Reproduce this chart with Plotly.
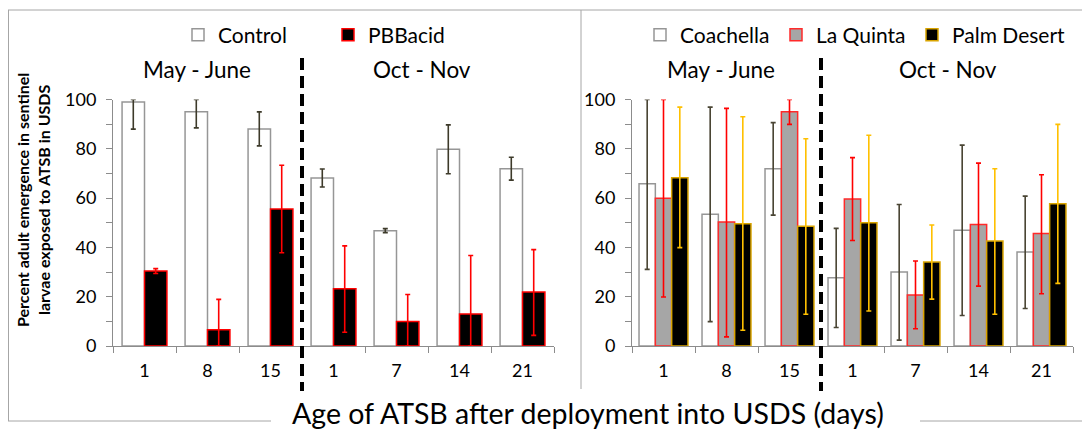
import plotly.graph_objects as go

# page body has an 8px margin; the figure fills the window from there to its right/bottom edge
PAGE_W, PAGE_H, BODY = 1090, 431, 8
W, H = PAGE_W - BODY, PAGE_H - BODY

# ---------------- data ----------------
day_labels = ["1", "8", "15", "1", "7", "14", "21"]

control = [99.0, 95.0, 88.0, 68.2, 46.8, 79.8, 71.9]
control_up = [1.0, 5.0, 7.0, 3.6, 0.8, 9.9, 4.7]
control_dn = [11.0, 6.5, 6.8, 3.7, 0.8, 9.9, 4.6]

pbbacid = [30.4, 6.6, 55.6, 23.2, 9.9, 13.0, 21.9]
pbbacid_up = [1.0, 12.3, 17.7, 17.4, 11.0, 23.7, 17.2]
pbbacid_dn = [1.0, 6.6, 17.8, 17.6, 9.9, 13.0, 17.6]

coachella = [65.8, 53.4, 71.9, 27.7, 30.0, 47.0, 38.1]
coachella_up = [34.2, 43.5, 18.7, 20.0, 27.4, 34.5, 22.7]
coachella_dn = [34.7, 43.5, 18.8, 20.2, 27.6, 34.6, 22.9]

laquinta = [59.9, 50.3, 95.0, 59.6, 20.7, 49.3, 45.6]
laquinta_up = [40.1, 46.1, 5.0, 16.8, 13.8, 24.9, 23.9]
laquinta_dn = [40.0, 46.6, 5.1, 16.8, 13.7, 25.0, 24.4]

palmdesert = [68.3, 49.6, 48.6, 50.0, 34.1, 42.6, 57.7]
palmdesert_up = [28.6, 43.4, 35.5, 35.5, 15.0, 29.3, 32.2]
palmdesert_dn = [28.4, 43.2, 35.7, 35.8, 15.1, 29.7, 32.3]

periods = ["May - June", "Oct - Nov"]
x_title = "Age of ATSB after deployment into USDS (days)"
y_title = "Percent adult emergence in sentinel<br>larvae exposed to ATSB in USDS"

# ---------------- style ----------------
FONT = "Lato"
AX = "#8c8c8c"
xs = list(range(len(day_labels)))


def px(x):
    return (x - BODY) / W


def py(y):
    return 1 - (y - BODY) / H


def bar(name, y, up, dn, fill, line, err, xa, ya, width, offset, legend, lw=None):
    return go.Bar(
        name=name, x=xs, y=y, xaxis=xa, yaxis=ya,
        width=width, offset=offset,
        marker=dict(color=fill, line=dict(color=line, width=1.5)),
        error_y=dict(type="data", symmetric=False, array=up, arrayminus=dn,
                     color=err, thickness=1.6, width=2.5),
        legend=legend, legendwidth=lw,
    )


fig = go.Figure()
wl = 0.356
fig.add_trace(bar("Control", control, control_up, control_dn, "white", "#969696", "#3d3a2a",
                  "x", "y", wl, -wl, "legend"))
fig.add_trace(bar("PBBacid", pbbacid, pbbacid_up, pbbacid_dn, "black", "#ff0000", "#ff0000",
                  "x", "y", wl, 0.0, "legend"))
wr = 0.259
fig.add_trace(bar("Coachella", coachella, coachella_up, coachella_dn, "white", "#969696", "#4a4534",
                  "x2", "y2", wr, -1.5 * wr, "legend2"))
fig.add_trace(bar("La Quinta", laquinta, laquinta_up, laquinta_dn, "#a6a6a6", "#ff2a2a", "#ff0000",
                  "x2", "y2", wr, -0.5 * wr, "legend2"))
fig.add_trace(bar("Palm Desert", palmdesert, palmdesert_up, palmdesert_dn, "black", "#d9a400", "#ffc000",
                  "x2", "y2", wr, 0.5 * wr, "legend2", lw=130))

ydom = [py(346), py(99.5)]
TICKFONT = dict(family=FONT, size=18, color="black")
xaxis_common = dict(
    range=[-0.5, len(day_labels) - 0.5], tickmode="array", tickvals=xs, ticktext=day_labels,
    ticks="", showline=True, linecolor=AX, linewidth=1, showgrid=False, zeroline=False,
    tickfont=TICKFONT, ticklabelstandoff=8, automargin=False,
    minor=dict(tickmode="linear", tick0=-0.5, dtick=1, ticks="outside", ticklen=6,
               tickcolor=AX, tickwidth=1, showgrid=False),
    fixedrange=True,
)
yaxis_common = dict(
    range=[0, 100], tickmode="linear", tick0=0, dtick=20, ticks="outside", ticklen=6,
    tickcolor=AX, tickwidth=1, showline=True, linecolor=AX, linewidth=1, showgrid=False,
    zeroline=False, tickfont=TICKFONT, ticklabelstandoff=6, automargin=False,
    minor=dict(tickmode="linear", tick0=0, dtick=10, ticks="outside", ticklen=6,
               tickcolor=AX, tickwidth=1, showgrid=False),
    fixedrange=True,
)

fig.update_layout(
    width=W, height=H, margin=dict(l=0, r=0, t=0, b=0, autoexpand=False),
    paper_bgcolor="white", plot_bgcolor="white",
    font=dict(family=FONT, color="black"),
    barmode="overlay",
    xaxis=dict(domain=[px(113), px(554)], anchor="y", **xaxis_common),
    yaxis=dict(domain=ydom, anchor="x", **yaxis_common),
    xaxis2=dict(domain=[px(632), px(1073)], anchor="y2", **xaxis_common),
    yaxis2=dict(domain=ydom, anchor="x2", **yaxis_common),
    legend=dict(orientation="h", x=px(178), xanchor="left", y=py(35), yanchor="middle",
                font=dict(family=FONT, size=21), entrywidth=105, entrywidthmode="pixels",
                bgcolor="rgba(0,0,0,0)", traceorder="normal"),
    legend2=dict(orientation="h", x=px(640), xanchor="left", y=py(35), yanchor="middle",
                 font=dict(family=FONT, size=21), entrywidth=91, entrywidthmode="pixels",
                 bgcolor="rgba(0,0,0,0)", traceorder="normal"),
    showlegend=True,
)

# period labels
ann = []
for text, xp in [(periods[0], 197), (periods[1], 422), (periods[0], 721), (periods[1], 948)]:
    ann.append(dict(text=text, x=px(xp), y=py(70), xref="paper", yref="paper",
                    showarrow=False, font=dict(family=FONT, size=22.5, color="black"),
                    xanchor="center", yanchor="middle"))
ann.append(dict(text=x_title, x=px(588), y=py(413), xref="paper", yref="paper", showarrow=False,
                font=dict(family=FONT, size=28.5, color="black"), xanchor="center", yanchor="middle",
                bgcolor="white"))
ann.append(dict(text="<b>" + y_title.replace("<br>", "</b><br><b>") + "</b>", x=px(33), y=py(200),
                xref="paper", yref="paper", showarrow=False, textangle=-90,
                font=dict(family=FONT, size=16, color="black"), xanchor="center", yanchor="middle"))
fig.update_layout(annotations=ann)

# frame lines and period separators
FR = "#a6a6a6"
shapes = [
    dict(type="line", xref="paper", yref="paper", x0=px(8), x1=1, y0=py(10), y1=py(10),
         line=dict(color=FR, width=1)),
    dict(type="line", xref="paper", yref="paper", x0=px(8.5), x1=px(8.5), y0=py(10), y1=py(421),
         line=dict(color=FR, width=1)),
    dict(type="line", xref="paper", yref="paper", x0=px(8), x1=px(271), y0=py(421), y1=py(421),
         line=dict(color=FR, width=1)),
    dict(type="line", xref="paper", yref="paper", x0=px(920), x1=1, y0=py(421), y1=py(421),
         line=dict(color=FR, width=1)),
    dict(type="line", xref="paper", yref="paper", x0=px(581), x1=px(581), y0=py(10), y1=py(389),
         line=dict(color=FR, width=1)),
]
for xr in ["x", "x2"]:
    shapes.append(dict(type="line", xref=xr, yref="paper", x0=2.5, x1=2.5, y0=py(58), y1=py(391),
                       line=dict(color="black", width=4, dash="12px,6px")))
fig.update_layout(shapes=shapes)

fig.write_html("out.html")
